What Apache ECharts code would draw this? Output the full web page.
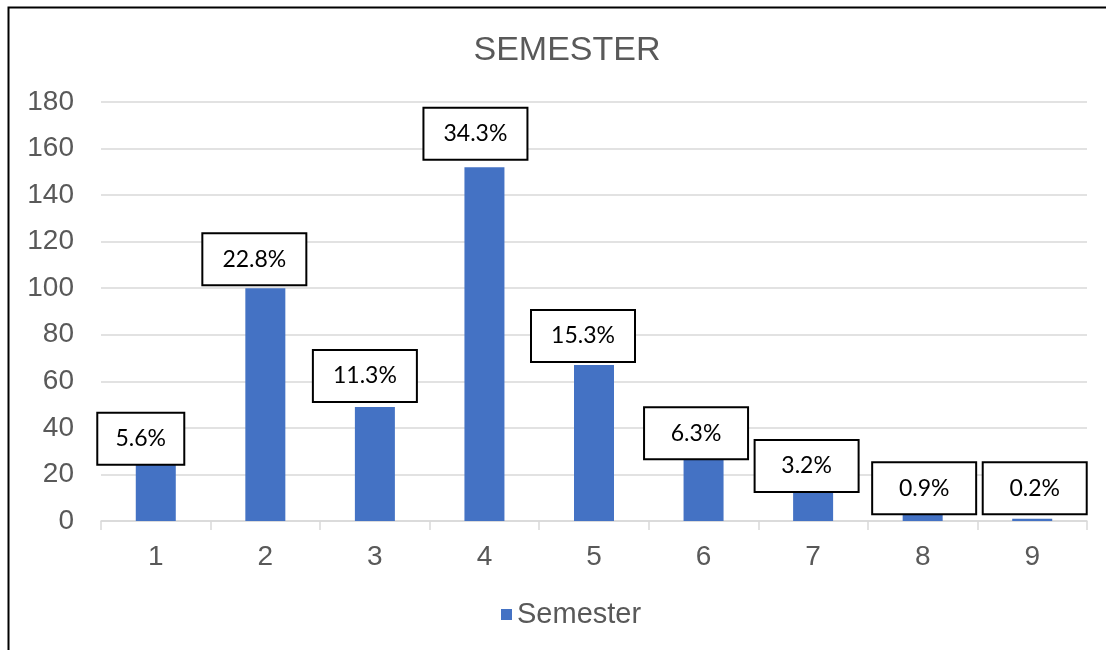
<!DOCTYPE html>
<html>
<head>
<meta charset="utf-8">
<script src="https://cdn.jsdelivr.net/npm/echarts@6/dist/echarts.min.js"></script>
<style>
html,body{margin:0;padding:0;background:#fff;}
#chart{width:1106px;height:650px;}
</style>
</head>
<body>
<div id="chart"></div>
<script>
// ---- data ----
const categories = ['1', '2', '3', '4', '5', '6', '7', '8', '9'];
const counts = [25, 100, 49, 152, 67, 28, 14, 4, 1];
const percentLabels = ['5.6%', '22.8%', '11.3%', '34.3%', '15.3%', '6.3%', '3.2%', '0.9%', '0.2%'];
const yTicks = [0, 20, 40, 60, 80, 100, 120, 140, 160, 180];
const seriesName = 'Semester';
const chartTitle = 'SEMESTER';

// ---- label placement (style only) ----
const labelOffsets = [[-15, 1], [-11, -4], [-10, -6], [-9, -8.5], [-11, -4], [-7.5, 2.5], [-6.5, 2.5], [1.5, 1.5], [2.5, -5.5]];
const labelWidths = [85, 102, 102, 102, 102, 102, 102, 102, 102];

const chart = echarts.init(document.getElementById('chart'));
const axisFont = 'Liberation Sans, Arial, sans-serif';

const barData = counts.map((v, i) => ({
  value: v,
  label: {
    offset: labelOffsets[i],
    width: labelWidths[i]
  }
}));

chart.setOption({
  backgroundColor: '#ffffff',
  animation: false,
  title: {
    text: chartTitle,
    left: 562,
    top: 29,
    textAlign: 'center',
    textStyle: { fontFamily: axisFont, fontSize: 34, fontWeight: 'normal', color: '#595959' }
  },
  legend: {
    left: 496,
    top: 595,
    icon: 'rect',
    itemWidth: 11,
    itemHeight: 11,
    textStyle: { fontFamily: axisFont, fontSize: 29, color: '#595959' },
    data: [seriesName]
  },
  grid: { left: 101, right: 19, top: 102, bottom: 129, containLabel: false },
  xAxis: {
    type: 'category',
    data: categories,
    boundaryGap: true,
    axisLine: { show: true, lineStyle: { color: '#d9d9d9', width: 1.5 } },
    axisTick: { show: true, length: 9, lineStyle: { color: '#d9d9d9', width: 1.5 } },
    axisLabel: { margin: 22, fontFamily: axisFont, fontSize: 28, color: '#595959' },
    splitLine: { show: false }
  },
  yAxis: {
    type: 'value',
    min: yTicks[0],
    max: yTicks[yTicks.length - 1],
    interval: yTicks[1] - yTicks[0],
    axisLine: { show: false },
    axisTick: { show: false },
    axisLabel: { margin: 27, fontFamily: axisFont, fontSize: 28, color: '#595959' },
    splitLine: { lineStyle: { color: '#d9d9d9', width: 1.5 } }
  },
  series: [{
    name: seriesName,
    type: 'bar',
    data: barData,
    barWidth: 40,
    itemStyle: { color: '#4472C4' },
    label: {
      show: true,
      position: 'top',
      distance: 0,
      formatter: (p) => percentLabels[p.dataIndex],
      fontFamily: 'Lato, Carlito, Calibri, sans-serif',
      fontSize: 23,
      color: '#000000',
      backgroundColor: '#ffffff',
      borderColor: '#000000',
      borderWidth: 2,
      height: 50,
      lineHeight: 50,
      padding: 0,
      align: 'center'
    },
    z: 2
  }],
  graphic: [{
    type: 'rect',
    shape: { x: 8.5, y: 7.5, width: 1300, height: 800 },
    style: { fill: 'none', stroke: '#000000', lineWidth: 2 },
    silent: true,
    z: 100
  }]
});
</script>
</body>
</html>
